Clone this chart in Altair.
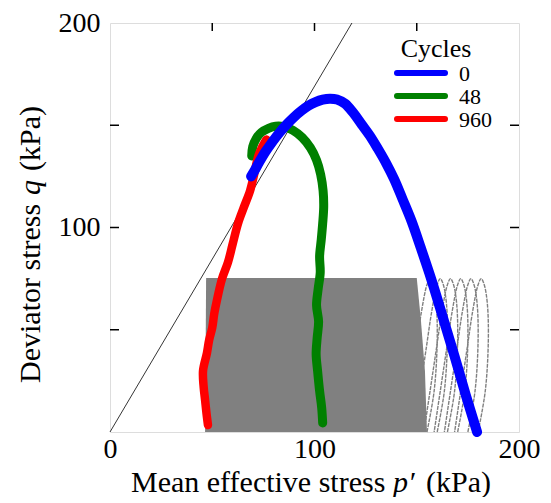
import altair as alt
import pandas as pd

W = 409
H = 409
FONT = "Liberation Serif"

series_names = ["0", "48", "960"]
series_colors = ["#0000ff", "#008000", "#ff0000"]
series_widths = [10, 9, 8.5]

# 0 cycles (monotonic)
blue_p = [179.5, 174, 168.5, 162.8, 157, 152, 147.5, 143, 139, 135, 131, 127, 123, 119,
          115, 111, 107.5, 104, 100.5, 97, 93.5, 90, 86.5, 83, 79.5, 76, 73, 70.5, 69]
blue_q = [0, 18, 37, 56, 75, 90, 103, 114, 123.5, 131.5, 138.5, 145, 150.5, 156,
          160.5, 162.6, 163, 162.5, 161.3, 159.5, 157, 154, 150.5, 146.5, 142, 137, 132,
          127.5, 125]

# 48 cycles
green_p = [104, 103.5, 102.5, 101.5, 100.8, 101.3, 102, 101, 101.8, 102.8, 102.5, 103.3,
           104, 104.5, 104.2, 103, 101, 98, 94, 89.5, 85, 81, 77.5, 74, 71.5, 69.8, 69.3]
green_q = [4.4, 12, 20, 30, 38, 46, 54, 62, 70, 78, 86, 94, 102, 110, 118, 126, 133, 139,
           144, 147.5, 149.3, 149.5, 148.5, 146.5, 143.5, 139.5, 135]

# 960 cycles
red_p = [47.9, 47.2, 46.5, 45.8, 45.5, 47.4, 48.5, 50, 51, 52.3, 54.8, 57.7, 60, 62.6,
         65.5, 68.5, 70.5, 72.4, 74.5, 76.5]
red_q = [3.4, 9, 15.6, 22, 30, 38.6, 45, 51, 58, 64.5, 75, 83, 92, 102, 110, 118, 126,
         134.5, 139.5, 143]

# cyclic loading band (dense part)
band_p = [46.5, 47, 150, 152, 154, 155]
band_q = [0, 75.3, 75.3, 55, 30, 0]

# individual loops visible on the right
loop_q = [0, 20, 45, 63, 72, 75, 72, 60, 40, 20, 0]
loops_p = [
    [155, 158.5, 160, 159.5, 158, 156.5, 155, 152.5, 149.5, 146.5, 143.5],
    [160, 163.5, 165, 164.5, 163, 161.5, 160, 157.5, 154.5, 151.5, 148.5],
    [165, 168.5, 170, 169.5, 168, 166.5, 165, 162.5, 159.5, 156.5, 153.5],
    [170, 173.5, 175, 174.5, 173, 171.5, 170, 167.5, 164.5, 161.5, 158.5],
    [175, 178.5, 180, 179.5, 178, 176.5, 175, 172.5, 169.5, 166.5, 163.5],
    [180, 183.5, 185, 184.5, 183, 181.5, 180, 177.5, 174.5, 171.5, 168.5],
]

# critical state line
csl_p = [0, 118.3]
csl_q = [0, 200]

tick_values = [50, 100, 150]
x_label_values = [0, 100, 200]
y_label_values = [100, 200]

xscale = alt.Scale(domain=[0, 200], nice=False, zero=False)
yscale = alt.Scale(domain=[0, 200], nice=False, zero=False)

xaxis = alt.Axis(values=x_label_values, title=None, ticks=False, domain=False, grid=False,
                 labelFont=FONT, labelFontSize=28, labelColor="black", labelPadding=3,
                 labelFlush=False, labelOverlap=False)
yaxis = alt.Axis(values=y_label_values, title=None, ticks=False, domain=False, grid=False,
                 labelFont=FONT, labelFontSize=28, labelColor="black", labelPadding=10,
                 labelOverlap=False)


def X(field="p"):
    return alt.X(f"{field}:Q", scale=xscale, axis=xaxis)


def Y(field="q"):
    return alt.Y(f"{field}:Q", scale=yscale, axis=yaxis)


layers = []

# grey band
band_df = pd.DataFrame({"p": band_p, "q": band_q})
layers.append(alt.Chart(band_df).mark_area(color="#808080", opacity=1).encode(
    x=X(), y=Y()))

# inward ticks on top, left and right sides
tdf = pd.DataFrame({"p": tick_values, "q": tick_values})
layers.append(alt.Chart(tdf).mark_rule(color="black", strokeWidth=1.5).encode(
    x=X("p"), y=alt.value(0), y2=alt.value(8)))
layers.append(alt.Chart(tdf).mark_rule(color="black", strokeWidth=1.5).encode(
    y=Y("q"), x=alt.value(0), x2=alt.value(9)))
layers.append(alt.Chart(tdf).mark_rule(color="black", strokeWidth=1.5).encode(
    y=Y("q"), x=alt.value(W), x2=alt.value(W - 9)))

# loops
loop_rows = []
for k, lp in enumerate(loops_p):
    for i, (pp, qq) in enumerate(zip(lp, loop_q)):
        loop_rows.append({"p": pp, "q": qq, "loop": k, "i": i})
loop_df = pd.DataFrame(loop_rows)
layers.append(alt.Chart(loop_df).mark_line(color="#808080", strokeWidth=1.4,
                                           strokeDash=[4, 1], interpolate="catmull-rom").encode(
    x=X(), y=Y(), detail="loop:N", order="i:Q"))

# critical state line
csl_df = pd.DataFrame({"p": csl_p, "q": csl_q})
layers.append(alt.Chart(csl_df).mark_line(color="black", strokeWidth=0.8).encode(
    x=X(), y=Y()))

# stress paths: green, red, blue (blue on top)
paths = {"0": (blue_p, blue_q), "48": (green_p, green_q), "960": (red_p, red_q)}
for idx in [1, 2, 0]:
    name = series_names[idx]
    pp, qq = paths[name]
    df = pd.DataFrame({"p": pp, "q": qq, "i": list(range(len(pp)))})
    layers.append(alt.Chart(df).mark_line(color=series_colors[idx],
                                          strokeWidth=series_widths[idx],
                                          strokeCap="round", strokeJoin="round",
                                          interpolate="catmull-rom").encode(
        x=X(), y=Y(), order="i:Q"))

# legend
layers.append(alt.Chart(pd.DataFrame({"t": ["Cycles"]})).mark_text(
    font=FONT, fontSize=26, align="center", baseline="alphabetic", color="black").encode(
    text="t:N", x=alt.value(326), y=alt.value(34)))
for i, name in enumerate(series_names):
    ldf = pd.DataFrame({"t": [name]})
    layers.append(alt.Chart(ldf).mark_rule(strokeWidth=6, strokeCap="round",
                                           color=series_colors[i]).encode(
        x=alt.value(287), x2=alt.value(335), y=alt.value(50 + 23 * i)))
    layers.append(alt.Chart(ldf).mark_text(
        font=FONT, fontSize=22, align="left", baseline="alphabetic", color="black").encode(
        text="t:N", x=alt.value(349), y=alt.value(58 + 23 * i)))

# axis titles (with italic symbols)
xt = [("Mean effective stress", "normal", 21), ("p\u2032", "italic", 283), ("(kPa)", "normal", 316)]
for txt, style, xpos in xt:
    layers.append(alt.Chart(pd.DataFrame({"t": [txt]})).mark_text(
        font=FONT, fontSize=30, fontStyle=style, align="left", baseline="alphabetic",
        color="black").encode(text="t:N", x=alt.value(xpos), y=alt.value(469)))

yt = [("Deviator stress", "normal", 360), ("q", "italic", 172), ("(kPa)", "normal", 148)]
for txt, style, ypos in yt:
    layers.append(alt.Chart(pd.DataFrame({"t": [txt]})).mark_text(
        font=FONT, fontSize=30, fontStyle=style, align="left", baseline="alphabetic",
        angle=270, color="black").encode(text="t:N", x=alt.value(-70), y=alt.value(ypos)))

chart = alt.layer(*layers).properties(
    width=W, height=H,
    autosize=alt.AutoSizeParams(type="none"),
    padding={"left": 102, "top": 15, "right": 22, "bottom": 65},
).configure_view(stroke="black", strokeWidth=1.5).configure(background="white")

chart.save("out.html", embed_options={"renderer": "svg", "actions": False})
